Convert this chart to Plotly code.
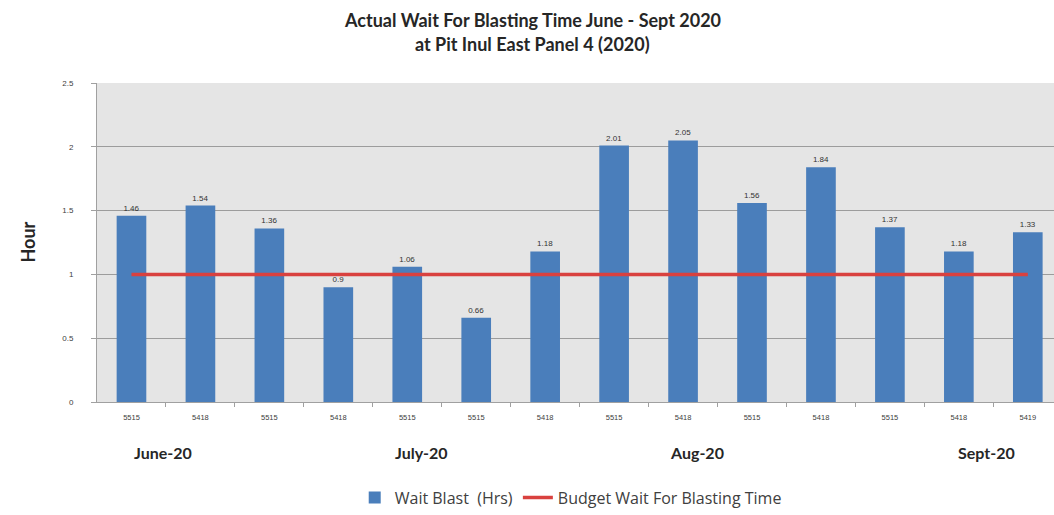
import plotly.graph_objects as go

categories = ["5515", "5418", "5515", "5418", "5515", "5515", "5418",
              "5515", "5418", "5515", "5418", "5515", "5418", "5419"]
wait_blast = [1.46, 1.54, 1.36, 0.9, 1.06, 0.66, 1.18,
              2.01, 2.05, 1.56, 1.84, 1.37, 1.18, 1.33]
budget = [1] * len(categories)
months = ["June-20", "July-20", "Aug-20", "Sept-20"]
month_pos = [0.45, 4.2, 8.2, 12.4]

idx = list(range(len(categories)))

fig = go.Figure()
fig.add_trace(go.Bar(
    x=idx, y=wait_blast, name="Wait Blast  (Hrs)",
    marker=dict(color="#4a7ebb", line=dict(width=0)),
    width=0.43,
    text=[str(v) for v in wait_blast], textposition="outside",
    textfont=dict(size=8, color="#333333", family="Liberation Sans"),
    cliponaxis=False,
))
fig.add_trace(go.Scatter(
    x=idx, y=budget, mode="lines", name="Budget Wait For Blasting Time",
    line=dict(color="#d9413f", width=3.5),
))

for m, p in zip(months, month_pos):
    fig.add_annotation(x=p, y=0, xref="x", yref="paper", yshift=-50,
                       yanchor="middle", text="<b>" + m + "</b>", showarrow=False,
                       font=dict(size=16, color="#262626", family="Lato"))

fig.add_annotation(x=0.455, y=1, xref="paper", yref="paper", yshift=63,
                   yanchor="middle",
                   text="<b>Actual Wait For Blasting Time June - Sept 2020</b>",
                   showarrow=False, font=dict(size=18, color="#262626", family="Lato"))
fig.add_annotation(x=0.455, y=1, xref="paper", yref="paper", yshift=39,
                   yanchor="middle",
                   text="<b>at Pit Inul East Panel 4 (2020)</b>",
                   showarrow=False, font=dict(size=18, color="#262626", family="Lato"))
fig.add_annotation(x=0, y=0.5, xref="paper", yref="paper", xshift=-70,
                   xanchor="center", yanchor="middle",
                   text="<b>Hour</b>", textangle=-90, showarrow=False,
                   font=dict(size=18, color="#262626", family="Lato"))

fig.update_layout(
    width=1054, height=515,
    margin=dict(l=97, r=0, t=83, b=113),
    paper_bgcolor="white", plot_bgcolor="#e5e5e5",
    showlegend=True, bargap=0.57,
    legend=dict(orientation="h", x=0.495, xanchor="center", y=-0.30, yanchor="middle",
                font=dict(size=16, color="#404040", family="Open Sans"),
                itemwidth=30, tracegroupgap=0),
    xaxis=dict(range=[-0.5, 13.38], tickvals=idx, ticktext=categories,
               tickfont=dict(size=7.5, color="#404040", family="Liberation Sans"),
               ticks="", showgrid=False, zeroline=False, ticklabelstandoff=8,
               showline=True, linecolor="#a0a0a0", linewidth=1,
               minor=dict(tickvals=[i + 0.5 for i in idx[:-1]], ticks="outside",
                          ticklen=4, tickcolor="#a0a0a0", showgrid=False)),
    yaxis=dict(range=[0, 2.5], tickvals=[0, 0.5, 1, 1.5, 2, 2.5],
               ticktext=["0", "0.5", "1", "1.5", "2", "2.5"],
               tickfont=dict(size=8, color="#404040", family="Liberation Sans"),
               ticks="outside", ticklen=5, tickcolor="#a0a0a0", ticklabelstandoff=16,
               showgrid=True, gridcolor="#9c9c9c", gridwidth=1, zeroline=False,
               showline=True, linecolor="#a0a0a0", linewidth=1),
)

fig.write_html("out.html")
